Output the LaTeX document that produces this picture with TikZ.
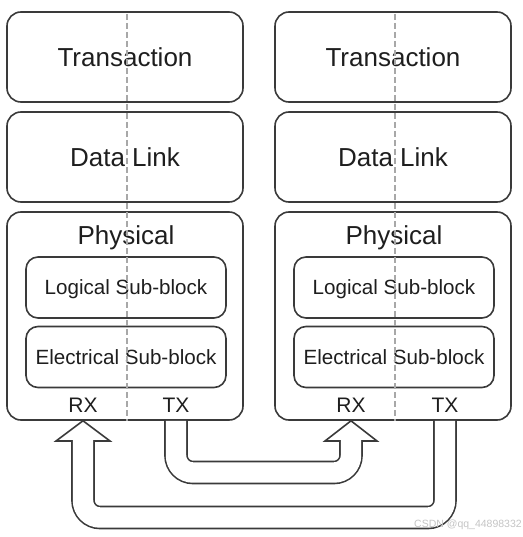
\documentclass[tikz,border=0pt]{standalone}
\usepackage{fontspec}
\setmainfont{Liberation Sans}
\usetikzlibrary{calc}
\definecolor{boxc}{HTML}{3A3A3A}
\definecolor{txtc}{HTML}{1E1E1E}
\definecolor{dashc}{HTML}{A8A8A8}
\definecolor{wmc}{HTML}{C4C4C4}
\begin{document}
\begin{tikzpicture}[x=1pt,y=-1pt,
  layerbox/.style={draw=boxc, line width=1.6pt, rounded corners=14pt, minimum width=236pt, minimum height=90pt, inner sep=0pt, text=txtc, font=\fontsize{26}{30}\selectfont, text height=18.6pt, text depth=0pt},
  physbox/.style={draw=boxc, line width=1.6pt, rounded corners=14pt, minimum width=236pt, minimum height=208pt, inner sep=0pt},
  subbox/.style={draw=boxc, line width=1.6pt, rounded corners=12pt, minimum width=200pt, minimum height=61pt, inner sep=0pt, text=txtc, font=\fontsize{20.6}{24}\selectfont, text height=14.75pt, text depth=0pt},
  biglabel/.style={inner sep=0pt, text=txtc, font=\fontsize{26}{30}\selectfont, text height=18.6pt, text depth=0pt},
  portlabel/.style={inner sep=0pt, text=txtc, font=\fontsize{21}{24}\selectfont, text height=15pt, text depth=0pt},
  pipe/.style={draw=boxc, line width=1.6pt, double=white, double distance=20.4pt, rounded corners=17pt},
  head/.style={draw=boxc, line width=1.6pt},
  divider/.style={draw=dashc, line width=1.6pt, dash pattern=on 6pt off 3pt}
]
\useasboundingbox (0,0) rectangle (522,537);

% left stack
\node[layerbox] (transL) at (125,57) {Transaction};
\node[layerbox] (dlL) at (125,157) {Data Link};
\node[physbox] (physL) at (125,316) {};
\node[biglabel] (physLlab) at (126,235) {Physical};
\node[subbox] (logL) at (126,287.5) {Logical Sub-block};
\node[subbox] (eleL) at (126,357) {Electrical Sub-block};
\node[portlabel] (RXL) at (83,405) {RX};
\node[portlabel] (TXL) at (176,405) {TX};

% right stack
\node[layerbox] (transR) at (393,57) {Transaction};
\node[layerbox] (dlR) at (393,157) {Data Link};
\node[physbox] (physR) at (393,316) {};
\node[biglabel] (physRlab) at (394,235) {Physical};
\node[subbox] (logR) at (394,287.5) {Logical Sub-block};
\node[subbox] (eleR) at (394,357) {Electrical Sub-block};
\node[portlabel] (RXR) at (351,405) {RX};
\node[portlabel] (TXR) at (445,405) {TX};

% arrow geometry
\coordinate (baseL) at (83,440.2);
\coordinate (baseR) at (351,440.2);
\coordinate (yin) at (0,472.5);
\coordinate (yout) at (0,517.5);

% inner arrow: left TX -> right RX
\draw[pipe] (TXL |- physL.south) |- (baseR |- yin) -- (baseR);
\draw[head] ($(baseR)+(-11,0.8)$) -- ($(baseR)+(-26,0.8)$) -- (RXR |- physR.south) -- ($(baseR)+(26,0.8)$) -- ($(baseR)+(11,0.8)$);

% outer arrow: right TX -> left RX
\draw[pipe] (TXR |- physR.south) |- (baseL |- yout) -- (baseL);
\draw[head] ($(baseL)+(-11,0.8)$) -- ($(baseL)+(-27,0.8)$) -- (RXL |- physL.south) -- ($(baseL)+(27,0.8)$) -- ($(baseL)+(11,0.8)$);

% dashed dividers
\coordinate (dtopL) at (127,14);
\coordinate (dtopR) at (395,14);
\draw[divider] (dtopL) -- (dtopL |- physL.south);
\draw[divider] (dtopR) -- (dtopR |- physR.south);

% watermark
\node[inner sep=0pt, text=wmc, font=\fontsize{10.5}{12}\selectfont] (wm) at (468,525) {CSDN @qq\_44898332};
\end{tikzpicture}
\end{document}
